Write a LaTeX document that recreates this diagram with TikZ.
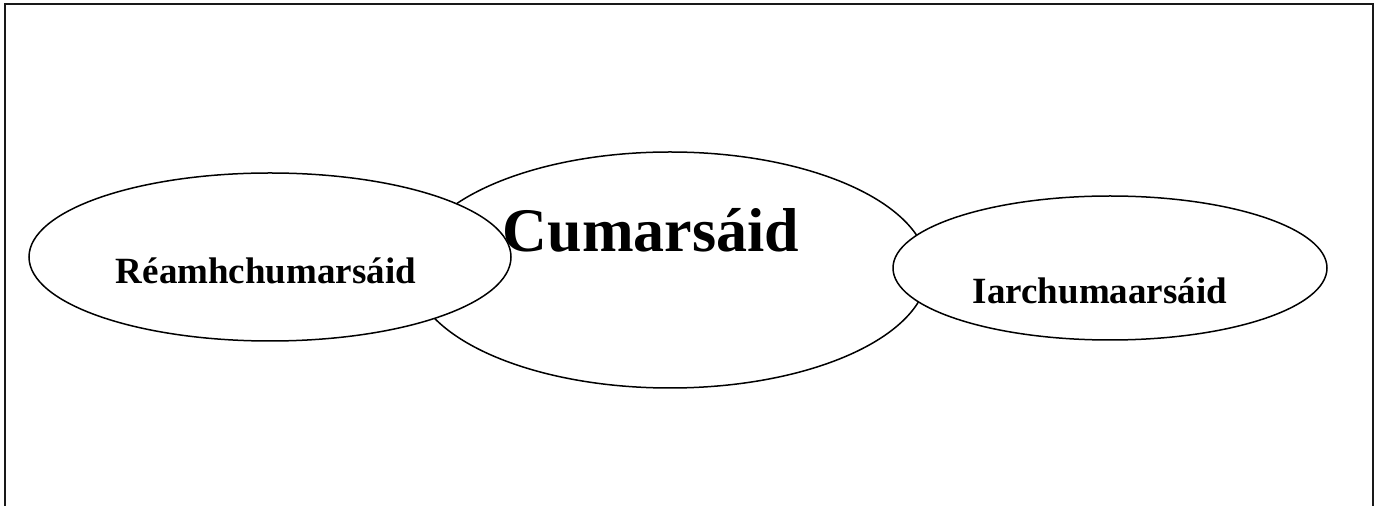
\documentclass[tikz,border=0pt]{standalone}
\usepackage{fontspec}
\setmainfont{Liberation Serif}
\usetikzlibrary{shapes.geometric}
\tikzset{every phase/.style={draw=black, fill=white, ellipse, line width=1.5pt, inner sep=0pt},
        every phase label/.style={font=\bfseries, anchor=base, inner sep=0pt},
        frame line/.style={line width=2.6pt, draw=black!90},
        }

\begin{document}
\begin{tikzpicture}[x=1pt, y=1pt]
    \useasboundingbox (0,0) rectangle (1377,506);

    \draw [frame line] (5,0) -- (5,502) -- (1373,502) -- (1373,0);

    \node [every phase, minimum width=516, minimum height=236] (Cumarsaid) at (670,236) {};
    \node [every phase, minimum width=482, minimum height=168] (Reamh) at (270,249) {};
    \node [every phase, minimum width=434, minimum height=144] (Iar) at (1110,238) {};

    \node [every phase label, font=\bfseries\fontsize{62}{62}\selectfont] (CumarsaidText) at (651,254) {Cumarsáid};
    \node [every phase label, font=\bfseries\fontsize{37}{37}\selectfont] (ReamhText) at (266,222) {Réamhchumarsáid};
    \node [every phase label, font=\bfseries\fontsize{37}{37}\selectfont] (IarText) at (1100,202) {Iarchumaarsáid};

\end{tikzpicture}
\end{document}
